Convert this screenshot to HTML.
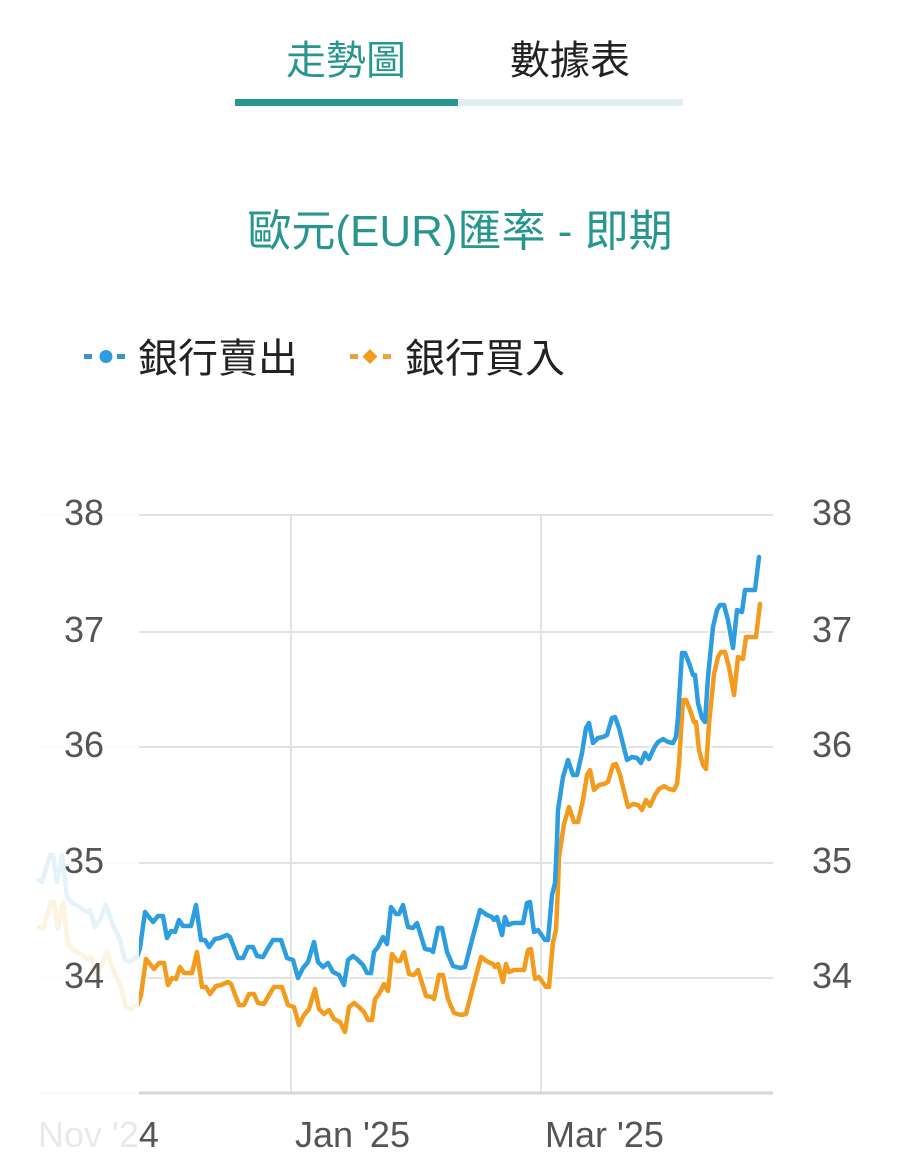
<!DOCTYPE html>
<html><head><meta charset="utf-8"><style>
html,body{margin:0;padding:0;background:#fff;}
svg{display:block;}
text{font-family:"Liberation Sans","Noto Sans CJK TC",sans-serif;}
</style></head><body>
<svg width="917" height="1152" viewBox="0 0 917 1152" xmlns="http://www.w3.org/2000/svg">
<rect width="917" height="1152" fill="#fff"/>
<!-- tabs -->
<text x="346" y="74" font-size="40" fill="#27968e" text-anchor="middle">走勢圖</text>
<text x="570" y="74" font-size="40" fill="#222" text-anchor="middle">數據表</text>
<rect x="235" y="99" width="223" height="7" fill="#27968e"/>
<rect x="458" y="99" width="225" height="7" fill="#e3eef0"/>
<!-- title -->
<text x="460" y="246" font-size="44" fill="#27968e" text-anchor="middle">歐元(EUR)匯率 - 即期</text>
<!-- legend -->
<rect x="84" y="354" width="8" height="5" fill="#3a93cc"/>
<rect x="117" y="354" width="8" height="5" fill="#3a93cc"/>
<circle cx="106" cy="356.5" r="6.5" fill="#2b9de0"/>
<text x="138" y="372" font-size="40" fill="#222">銀行賣出</text>
<rect x="350" y="354" width="8" height="5" fill="#eba33a"/>
<rect x="383" y="354" width="8" height="5" fill="#eba33a"/>
<polygon points="370,349 377.5,356.5 370,364 362.5,356.5" fill="#f29b1d"/>
<text x="405" y="372" font-size="40" fill="#222">銀行買入</text>
<!-- grid -->
<g stroke="#e2e2e2" stroke-width="2">
<line x1="40" y1="515" x2="773" y2="515"/>
<line x1="40" y1="632" x2="773" y2="632"/>
<line x1="40" y1="747" x2="773" y2="747"/>
<line x1="40" y1="863" x2="773" y2="863"/>
<line x1="40" y1="978" x2="773" y2="978"/>
<line x1="291" y1="515" x2="291" y2="1093"/>
<line x1="541" y1="515" x2="541" y2="1093"/>
</g>
<line x1="40" y1="1093" x2="773" y2="1093" stroke="#d6d6d6" stroke-width="3"/>
<!-- series -->
<g fill="none" stroke-linejoin="round" stroke-linecap="round">
<polyline stroke="#fff" stroke-width="8.5" opacity="0.8" points="38,880 42,882 50,855 53,855 57,882 62,855 67,897 72,903 80,907 86,912 90,910 95,927 100,920 106,905 113,925 120,940 125,960 130,962 137,957 140,948 145,912 153,922 158,916 163,916 167,938 171,931 175,932 179,920 183,926 191,926 196,905 201,940 205,940 209,947 215,939 220,938 227,935 230,937 238,958 243,958 248,947 253,947 257,956 263,957 268,948 273,940 281,940 287,958 293,960 298,978 303,968 308,962 314,942 318,962 323,967 328,963 333,972 339,975 344,985 348,960 353,956 358,960 363,965 367,973 371,973 374,952 378,947 383,937 387,944 391,907 396,914 399,914 403,905 408,927 413,928 417,923 425,949 431,950 433,952 438,928 442,928 447,952 453,966 460,968 465,967 472,940 480,910 487,915 492,917 494,920 497,917 502,935 505,917 508,925 513,923 520,923 523,923 527,903 530,902 534,932 538,930 545,940 548,940 552,895 555,883 557,840 558,810 563,777 568,760 573,775 577,775 582,753 586,728 589,723 593,743 598,738 603,737 607,735 612,718 615,717 619,728 627,760 632,757 637,758 641,763 645,753 649,759 654,748 658,742 663,739 668,742 673,743 676,737 678,717 682,653 685,653 689,663 693,675 695,675 698,703 702,718 705,722 708,677 713,627 717,610 720,605 724,605 728,620 733,648 737,610 742,612 745,590 750,590 755,590 759,557"/>
<polyline stroke="#fff" stroke-width="8.5" opacity="0.8" transform="translate(1,47)" points="38,880 42,882 50,855 53,855 57,882 62,855 67,897 72,903 80,907 86,912 90,910 95,927 100,920 106,905 113,925 120,940 125,960 130,962 137,957 140,948 145,912 153,922 158,916 163,916 167,938 171,931 175,932 179,920 183,926 191,926 196,905 201,940 205,940 209,947 215,939 220,938 227,935 230,937 238,958 243,958 248,947 253,947 257,956 263,957 268,948 273,940 281,940 287,958 293,960 298,978 303,968 308,962 314,942 318,962 323,967 328,963 333,972 339,975 344,985 348,960 353,956 358,960 363,965 367,973 371,973 374,952 378,947 383,937 387,944 391,907 396,914 399,914 403,905 408,927 413,928 417,923 425,949 431,950 433,952 438,928 442,928 447,952 453,966 460,968 465,967 472,940 480,910 487,915 492,917 494,920 497,917 502,935 505,917 508,925 513,923 520,923 523,923 527,903 530,902 534,932 538,930 545,940 548,940 552,895 555,883 557,840 558,810 563,777 568,760 573,775 577,775 582,753 586,728 589,723 593,743 598,738 603,737 607,735 612,718 615,717 619,728 627,760 632,757 637,758 641,763 645,753 649,759 654,748 658,742 663,739 668,742 673,743 676,737 678,717 682,653 685,653 689,663 693,675 695,675 698,703 702,718 705,722 708,677 713,627 717,610 720,605 724,605 728,620 733,648 737,610 742,612 745,590 750,590 755,590 759,557"/>
<polyline stroke="#f29b1d" stroke-width="4.5" transform="translate(1,47)" points="38,880 42,882 50,855 53,855 57,882 62,855 67,897 72,903 80,907 86,912 90,910 95,927 100,920 106,905 113,925 120,940 125,960 130,962 137,957 140,948 145,912 153,922 158,916 163,916 167,938 171,931 175,932 179,920 183,926 191,926 196,905 201,940 205,940 209,947 215,939 220,938 227,935 230,937 238,958 243,958 248,947 253,947 257,956 263,957 268,948 273,940 281,940 287,958 293,960 298,978 303,968 308,962 314,942 318,962 323,967 328,963 333,972 339,975 344,985 348,960 353,956 358,960 363,965 367,973 371,973 374,952 378,947 383,937 387,944 391,907 396,914 399,914 403,905 408,927 413,928 417,923 425,949 431,950 433,952 438,928 442,928 447,952 453,966 460,968 465,967 472,940 480,910 487,915 492,917 494,920 497,917 502,935 505,917 508,925 513,923 520,923 523,923 527,903 530,902 534,932 538,930 545,940 548,940 552,895 555,883 557,840 558,810 563,777 568,760 573,775 577,775 582,753 586,728 589,723 593,743 598,738 603,737 607,735 612,718 615,717 619,728 627,760 632,757 637,758 641,763 645,753 649,759 654,748 658,742 663,739 668,742 673,743 676,737 678,717 682,653 685,653 689,663 693,675 695,675 698,703 702,718 705,722 708,677 713,627 717,610 720,605 724,605 728,620 733,648 737,610 742,612 745,590 750,590 755,590 759,557"/>
<polyline stroke="#2b9de0" stroke-width="4.5" points="38,880 42,882 50,855 53,855 57,882 62,855 67,897 72,903 80,907 86,912 90,910 95,927 100,920 106,905 113,925 120,940 125,960 130,962 137,957 140,948 145,912 153,922 158,916 163,916 167,938 171,931 175,932 179,920 183,926 191,926 196,905 201,940 205,940 209,947 215,939 220,938 227,935 230,937 238,958 243,958 248,947 253,947 257,956 263,957 268,948 273,940 281,940 287,958 293,960 298,978 303,968 308,962 314,942 318,962 323,967 328,963 333,972 339,975 344,985 348,960 353,956 358,960 363,965 367,973 371,973 374,952 378,947 383,937 387,944 391,907 396,914 399,914 403,905 408,927 413,928 417,923 425,949 431,950 433,952 438,928 442,928 447,952 453,966 460,968 465,967 472,940 480,910 487,915 492,917 494,920 497,917 502,935 505,917 508,925 513,923 520,923 523,923 527,903 530,902 534,932 538,930 545,940 548,940 552,895 555,883 557,840 558,810 563,777 568,760 573,775 577,775 582,753 586,728 589,723 593,743 598,738 603,737 607,735 612,718 615,717 619,728 627,760 632,757 637,758 641,763 645,753 649,759 654,748 658,742 663,739 668,742 673,743 676,737 678,717 682,653 685,653 689,663 693,675 695,675 698,703 702,718 705,722 708,677 713,627 717,610 720,605 724,605 728,620 733,648 737,610 742,612 745,590 750,590 755,590 759,557"/>
</g>
<!-- x labels -->
<g font-size="36" fill="#555">
<text x="38" y="1147">Nov '24</text>
<text x="295" y="1147">Jan '25</text>
<text x="545" y="1147">Mar '25</text>
</g>
<!-- faded navigator overlay on left -->
<rect x="0" y="480" width="139" height="672" fill="#fff" opacity="0.87"/>
<!-- y labels -->
<g font-size="36" fill="#555">
<text x="104" y="525" text-anchor="end">38</text>
<text x="104" y="642" text-anchor="end">37</text>
<text x="104" y="757" text-anchor="end">36</text>
<text x="104" y="873" text-anchor="end">35</text>
<text x="104" y="988" text-anchor="end">34</text>
<text x="812" y="525">38</text>
<text x="812" y="642">37</text>
<text x="812" y="757">36</text>
<text x="812" y="873">35</text>
<text x="812" y="988">34</text>
</g>
</svg>
</body></html>
